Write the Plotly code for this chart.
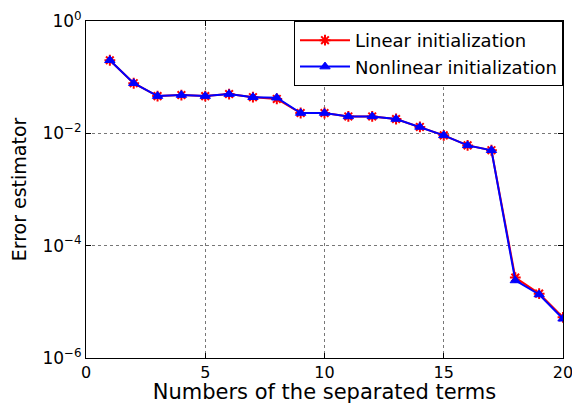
import plotly.graph_objects as go

# Number of separated terms
terms = list(range(1, 21))

# Error estimator for each initialization strategy
linear_err = [0.20, 0.078, 0.046, 0.048, 0.046, 0.050, 0.044, 0.041, 0.023, 0.023,
              0.020, 0.020, 0.018, 0.013, 0.0092, 0.0061, 0.0050, 2.7e-5, 1.4e-5, 5.3e-6]
nonlinear_err = [0.20, 0.078, 0.046, 0.048, 0.046, 0.050, 0.044, 0.043, 0.023, 0.023,
                 0.020, 0.020, 0.018, 0.013, 0.0092, 0.0061, 0.0050, 2.4e-5, 1.35e-5, 5.0e-6]

y_tick_vals = [1e-6, 1e-4, 1e-2, 1]
y_tick_text = ["10<sup>−6</sup>", "10<sup>−4</sup>", "10<sup>−2</sup>", "10<sup>0</sup>"]
x_tick_vals = [0, 5, 10, 15, 20]

font_family = "DejaVu Sans, Arial, sans-serif"

fig = go.Figure()
fig.add_trace(go.Scatter(
    x=terms, y=linear_err, mode="lines+markers", name="Linear initialization",
    line=dict(color="#ff0000", width=2),
    marker=dict(symbol="asterisk-open", size=9, color="#ff0000",
                line=dict(color="#ff0000", width=2)),
))
fig.add_trace(go.Scatter(
    x=terms, y=nonlinear_err, mode="lines+markers", name="Nonlinear initialization",
    line=dict(color="#0000ff", width=2),
    marker=dict(symbol="triangle-up", size=9, color="#0000ff",
                line=dict(color="#0000ff", width=1)),
))

axis_common = dict(
    showline=True, linecolor="black", linewidth=1, mirror="allticks",
    ticks="inside", ticklen=5, tickcolor="black",
    showgrid=True, gridcolor="#777777", griddash="dot", gridwidth=1,
    zeroline=False,
)

fig.update_layout(
    width=572, height=404,
    # fixed margins so the plot area stays put while the axis titles honour their standoff
    margin=dict(l=86, r=9, t=21, b=46, autoexpand=False),
    paper_bgcolor="white", plot_bgcolor="white",
    font=dict(family=font_family, color="black"),
    xaxis=dict(
        range=[0, 20], tickvals=x_tick_vals,
        ticklabeloverflow="allow", ticklabelstandoff=0, automargin=True,
        tickfont=dict(family=font_family, size=16, color="black"),
        title=dict(text="Numbers of the separated terms", standoff=3,
                   font=dict(family=font_family, size=21)),
        **axis_common,
    ),
    yaxis=dict(
        type="log", range=[-6, 0], tickvals=y_tick_vals, ticktext=y_tick_text,
        automargin=False,
        tickfont=dict(family=font_family, size=17, color="black"),
        title=dict(text="Error estimator", standoff=10,
                   font=dict(family=font_family, size=19)),
        **axis_common,
    ),
    legend=dict(
        x=1, y=1, xanchor="right", yanchor="top",
        bgcolor="white", bordercolor="black", borderwidth=1,
        font=dict(family=font_family, size=18),
        tracegroupgap=0, itemwidth=50,
    ),
    showlegend=True,
)

fig.write_html("out.html")
